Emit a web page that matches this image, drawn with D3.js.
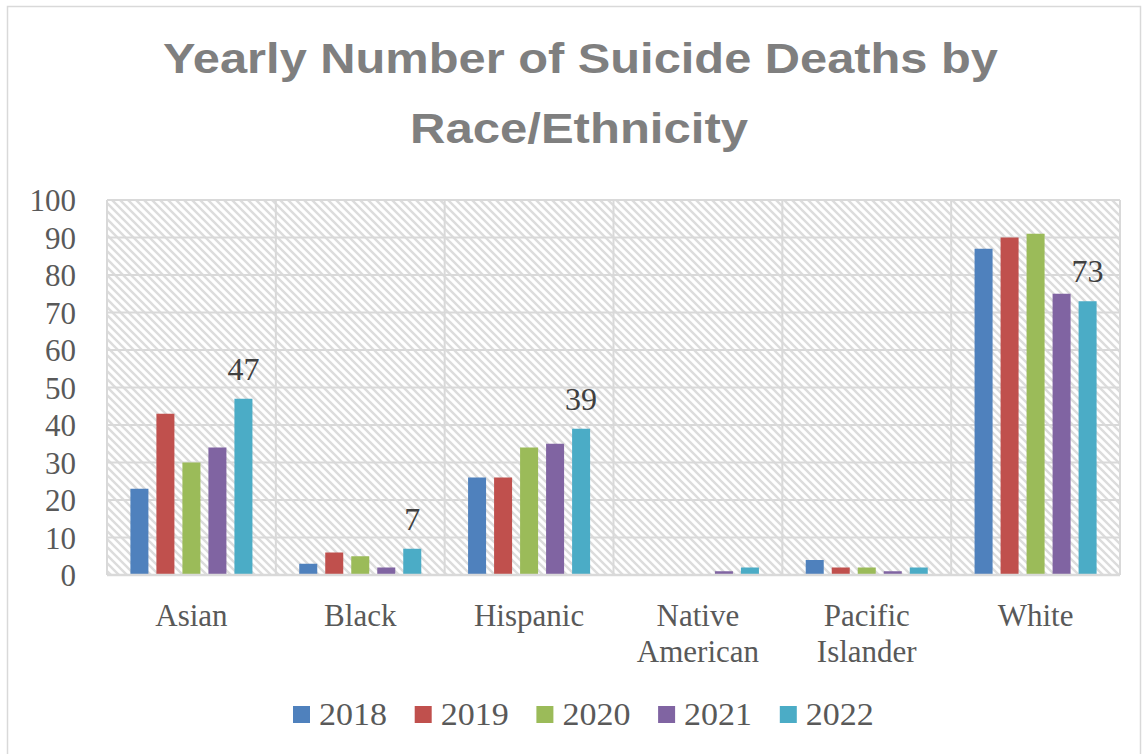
<!DOCTYPE html>
<html>
<head>
<meta charset="utf-8">
<script src="https://cdn.jsdelivr.net/npm/d3@7"></script>
<style>
  html, body { margin: 0; padding: 0; background: #ffffff; }
  svg { display: block; }
</style>
</head>
<body>
<svg id="chart" width="1143" height="754"></svg>
<script>
// Yearly suicide deaths by race/ethnicity, 2018–2022
const categories = ["Asian", "Black", "Hispanic", "Native American", "Pacific Islander", "White"];
const categoryLines = [["Asian"], ["Black"], ["Hispanic"], ["Native", "American"], ["Pacific", "Islander"], ["White"]];
const years = ["2018", "2019", "2020", "2021", "2022"];
const deaths2018 = [23, 3, 26, 0, 4, 87];
const deaths2019 = [43, 6, 26, 0, 2, 90];
const deaths2020 = [30, 5, 34, 0, 2, 91];
const deaths2021 = [34, 2, 35, 1, 1, 75];
const deaths2022 = [47, 7, 39, 2, 2, 73];
const yTicks = [0, 10, 20, 30, 40, 50, 60, 70, 80, 90, 100];
const labelledCategories = ["Asian", "Black", "Hispanic", "White"]; // 2022 values shown as labels
const colors = ["#4f81bd", "#c0504d", "#9bbb59", "#8064a2", "#4bacc6"];

const seriesValues = [deaths2018, deaths2019, deaths2020, deaths2021, deaths2022];
const rows = categories.map((c, i) => ({
  category: c,
  values: years.map((y, j) => ({ year: y, value: seriesValues[j][i] }))
}));

const svg = d3.select("#chart");
const plot = { left: 107, top: 200, right: 1120, bottom: 575 };
const serif = "'Liberation Serif', 'Times New Roman', serif";
const textGrey = "#595959";
const gridGrey = "#d9d9d9";

// chart frame
svg.append("rect")
  .attr("x", 7.5).attr("y", 6.5)
  .attr("width", 1133).attr("height", 760)
  .attr("fill", "#ffffff").attr("stroke", gridGrey).attr("stroke-width", 1.5);

// hatched plot-area fill
const defs = svg.append("defs");
const pat = defs.append("pattern")
  .attr("id", "hatch").attr("patternUnits", "userSpaceOnUse")
  .attr("width", 8).attr("height", 8);
pat.append("rect").attr("width", 8).attr("height", 8).attr("fill", "#ffffff");
pat.append("path")
  .attr("d", "M-2,-2 L10,10 M-2,6 L2,10 M6,-2 L10,2")
  .attr("stroke", "#dcdcdc").attr("stroke-width", 2.4).attr("stroke-linecap", "square");

svg.append("rect")
  .attr("x", plot.left).attr("y", plot.top)
  .attr("width", plot.right - plot.left).attr("height", plot.bottom - plot.top)
  .attr("fill", "url(#hatch)");

// scales
const x0 = d3.scaleBand().domain(categories).range([plot.left, plot.right]).paddingInner(0).paddingOuter(0);
const x1 = d3.scaleBand().domain(years).range([0, x0.bandwidth()]).paddingInner(8 / 26).paddingOuter(0.9);
const y = d3.scaleLinear().domain([0, 100]).range([plot.bottom, plot.top]);

// horizontal gridlines
svg.append("g").selectAll("line").data(yTicks).join("line")
  .attr("x1", plot.left).attr("x2", plot.right)
  .attr("y1", d => y(d)).attr("y2", d => y(d))
  .attr("stroke", gridGrey).attr("stroke-width", 2);

// vertical gridlines at category boundaries (and plot edges)
const boundaries = categories.map(c => x0(c)).concat([plot.right]);
svg.append("g").selectAll("line").data(boundaries).join("line")
  .attr("x1", d => d).attr("x2", d => d)
  .attr("y1", plot.top).attr("y2", plot.bottom)
  .attr("stroke", gridGrey).attr("stroke-width", 2);

// y axis labels
const yAxis = d3.axisLeft(y).tickValues(yTicks).tickSize(0).tickPadding(0);
const gy = svg.append("g").attr("transform", `translate(76,0)`).call(yAxis);
gy.select(".domain").remove();
gy.selectAll("text")
  .attr("font-family", serif).attr("font-size", 31).attr("fill", textGrey)
  .attr("dy", "0.34em");

// bars
const groups = svg.append("g").selectAll("g").data(rows).join("g")
  .attr("transform", d => `translate(${x0(d.category)},0)`);
groups.selectAll("rect").data(d => d.values).join("rect")
  .attr("x", d => x1(d.year))
  .attr("width", x1.bandwidth())
  .attr("y", d => y(d.value))
  .attr("height", d => y(0) - y(d.value))
  .attr("fill", d => colors[years.indexOf(d.year)]);

// baseline
svg.append("line")
  .attr("x1", plot.left).attr("x2", plot.right)
  .attr("y1", plot.bottom).attr("y2", plot.bottom)
  .attr("stroke", gridGrey).attr("stroke-width", 2.5);

// data labels on the 2022 series
svg.append("g").selectAll("text")
  .data(rows.filter(r => labelledCategories.includes(r.category)))
  .join("text")
  .attr("x", d => x0(d.category) + x1("2022") + x1.bandwidth() / 2)
  .attr("y", d => y(d.values[4].value) - 19)
  .attr("text-anchor", "middle")
  .attr("font-family", serif).attr("font-size", 32).attr("fill", "#404040")
  .text(d => d.values[4].value);

// category labels
const catG = svg.append("g").selectAll("text").data(categories).join("text")
  .attr("x", d => x0(d) + x0.bandwidth() / 2)
  .attr("y", 626)
  .attr("text-anchor", "middle")
  .attr("font-family", serif).attr("font-size", 31).attr("fill", textGrey);
catG.selectAll("tspan").data((d, i) => categoryLines[i]).join("tspan")
  .attr("x", function () { return d3.select(this.parentNode).attr("x"); })
  .attr("dy", (d, i) => i === 0 ? 0 : 36)
  .text(d => d);

// title
const title = svg.append("g").attr("font-family", "'Liberation Sans', Arial, sans-serif")
  .attr("font-weight", 700).attr("fill", "#7f7f7f").attr("text-anchor", "middle");
title.append("text").attr("x", 580.5).attr("y", 73).attr("font-size", 43)
  .attr("textLength", 835).attr("lengthAdjust", "spacingAndGlyphs")
  .text("Yearly Number of Suicide Deaths by");
title.append("text").attr("x", 579).attr("y", 143).attr("font-size", 43)
  .attr("textLength", 338).attr("lengthAdjust", "spacingAndGlyphs")
  .text("Race/Ethnicity");

// legend
const legend = svg.append("g").selectAll("g").data(years).join("g")
  .attr("transform", (d, i) => `translate(${293 + i * 121.7},0)`);
legend.append("rect")
  .attr("x", 0).attr("y", 706).attr("width", 17).attr("height", 17)
  .attr("fill", (d, i) => colors[i]);
legend.append("text")
  .attr("x", 26).attr("y", 725)
  .attr("font-family", serif).attr("font-size", 32).attr("fill", textGrey)
  .attr("textLength", 68).attr("lengthAdjust", "spacingAndGlyphs")
  .text(d => d);
</script>
</body>
</html>
